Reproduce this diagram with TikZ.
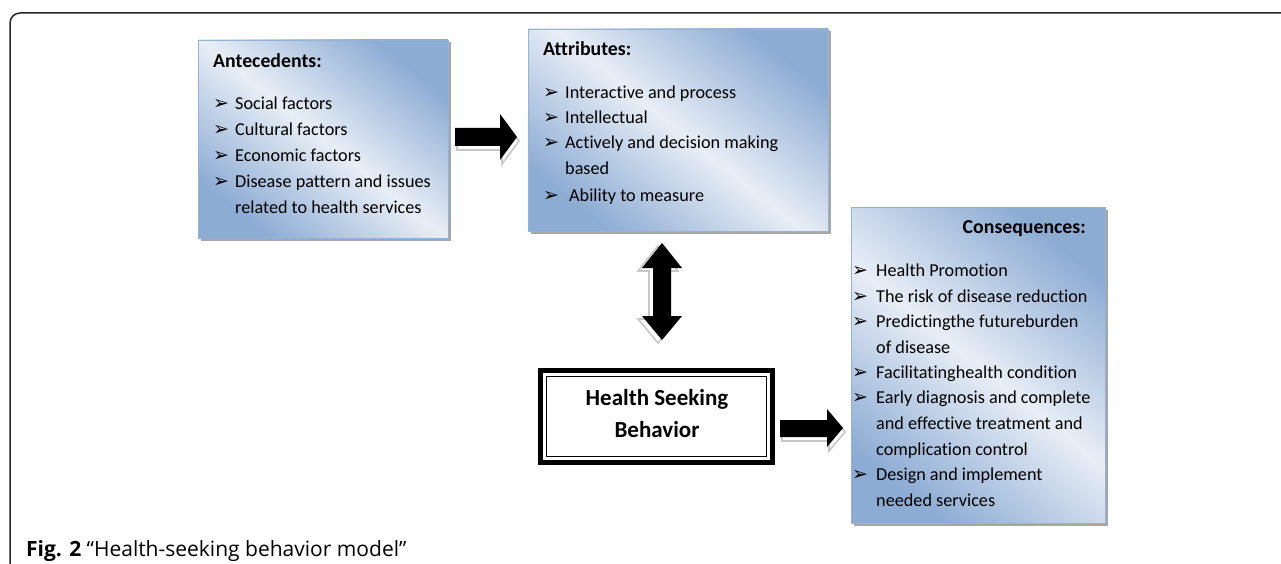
\documentclass[tikz,border=0pt]{standalone}
\usepackage{fontspec}
\setmainfont{Carlito}[Ligatures=CommonOff]
\newfontfamily\dv{DejaVu Sans}
\newfontfamily\capf{Open Sans}
\usetikzlibrary{shadows}
\definecolor{bdark}{RGB}{141,172,212}
\definecolor{blight}{RGB}{232,238,246}
\definecolor{bborder}{RGB}{150,178,214}
\newcommand{\bul}{{\dv\fontsize{19}{19}\selectfont ➢}}
\tikzset{
  gbox/.style={draw=bborder, line width=0.8pt, top color=bdark, bottom color=bdark, middle color=blight, shading angle=-39,
    drop shadow={shadow xshift=2.5pt, shadow yshift=-2.5pt, fill=black, opacity=0.35},
    anchor=north west, inner sep=0pt, outer sep=0pt},
  txt/.style={anchor=base west, inner sep=0pt, font=\fontsize{18.2}{21}\selectfont},
  ttl/.style={anchor=base west, inner sep=0pt, font=\fontsize{19.8}{23}\selectfont\bfseries},
  blk/.style={fill=black},
  blkshadow/.style={draw=black!22, line width=1.6pt, fill=white},
}
\begin{document}
\begin{tikzpicture}[x=1pt,y=-1pt]
\useasboundingbox (0,0) rectangle (1281,564);
% outer frame
\draw[line width=1.5pt, black!85, rounded corners=10pt] (10,566) -- (10,13) -- (1283,13);

% boxes
\node[gbox, minimum width=250pt, minimum height=198pt] (ante) at (198,40) {};
\node[gbox, minimum width=300pt, minimum height=202pt] (attr) at (528,29) {};
\node[gbox, minimum width=254pt, minimum height=316pt] (cons) at (851,207) {};

% antecedents text
\node[ttl] (a0) at (213,68) {Antecedents:};
\node[txt] (a1) at (213,110) {\makebox[22pt][l]{\bul}Social factors};
\node[txt] (a2) at (213,136) {\makebox[22pt][l]{\bul}Cultural factors};
\node[txt] (a3) at (213,161) {\makebox[22pt][l]{\bul}Economic factors};
\node[txt] (a4) at (213,187) {\makebox[22pt][l]{\bul}Disease pattern and issues};
\node[txt] (a5) at (235,213) {related to health services};

% attributes text
\node[ttl] (b0) at (543,56) {Attributes:};
\node[txt] (b1) at (543,99) {\makebox[22pt][l]{\bul}Interactive and process};
\node[txt] (b2) at (543,124) {\makebox[22pt][l]{\bul}Intellectual};
\node[txt] (b3) at (543,149) {\makebox[22pt][l]{\bul}Actively and decision making};
\node[txt] (b4) at (565,175) {based};
\node[txt] (b5) at (543,201) {\makebox[26pt][l]{\bul}Ability to measure};

% consequences text
\node[ttl, anchor=base east] (c0) at (1086,233) {Consequences:};
\node[txt] (c1) at (852,276) {\makebox[24pt][l]{\bul}Health Promotion};
\node[txt] (c2) at (852,302) {\makebox[24pt][l]{\bul}The risk of disease reduction};
\node[txt] (c3) at (852,327) {\makebox[24pt][l]{\bul}Predictingthe futureburden};
\node[txt] (c4) at (876,353) {of disease};
\node[txt] (c5) at (852,378) {\makebox[24pt][l]{\bul}Facilitatinghealth condition};
\node[txt] (c6) at (852,403) {\makebox[24pt][l]{\bul}Early diagnosis and complete};
\node[txt] (c7) at (876,429) {and effective treatment and};
\node[txt] (c8) at (876,455) {complication control};
\node[txt] (c9) at (852,480) {\makebox[24pt][l]{\bul}Design and implement};
\node[txt] (c10) at (876,506) {needed services};

% health seeking behavior box
\node[draw=black, line width=5pt, minimum width=232pt, minimum height=92pt, inner sep=0pt, outer sep=0pt, anchor=north west] (hsb) at (540.5,370.5) {};
\draw[line width=1.8pt] ([xshift=6pt,yshift=-6pt]hsb.north west) rectangle ([xshift=-6pt,yshift=6pt]hsb.south east);
\node[inner sep=0pt, anchor=base, font=\fontsize{23}{27}\selectfont\bfseries] (h1) at (657,405) {Health Seeking};
\node[inner sep=0pt, anchor=base, font=\fontsize{23}{27}\selectfont\bfseries] (h2) at (657,437) {Behavior};

% block arrow antecedents -> attributes
\draw[blkshadow, shift={(2,4)}] (455,128) -- (500,128) -- (500,114) -- (517,137) -- (500,160) -- (500,146) -- (455,146) -- cycle;
\fill[blk] (455,128) -- (500,128) -- (500,114) -- (517,137) -- (500,160) -- (500,146) -- (455,146) -- cycle;

% double arrow attributes <-> hsb
\draw[blkshadow, shift={(-4,3)}] (662,243) -- (682,268) -- (671,268) -- (671,316) -- (682,316) -- (662,340) -- (642,316) -- (653,316) -- (653,268) -- (642,268) -- cycle;
\fill[blk] (662,243) -- (682,268) -- (671,268) -- (671,316) -- (682,316) -- (662,340) -- (642,316) -- (653,316) -- (653,268) -- (642,268) -- cycle;

% block arrow hsb -> consequences
\draw[blkshadow, shift={(2,4)}] (780,420) -- (827,420) -- (827,409) -- (843,428) -- (827,447) -- (827,437) -- (780,437) -- cycle;
\fill[blk] (780,420) -- (827,420) -- (827,409) -- (843,428) -- (827,447) -- (827,437) -- (780,437) -- cycle;

% caption
\node[anchor=base west, inner sep=0pt, font=\capf\fontsize{21}{25}\selectfont] (cap) at (26,556) {\textbf{Fig. 2} “Health-seeking behavior model”};
\end{tikzpicture}
\end{document}
